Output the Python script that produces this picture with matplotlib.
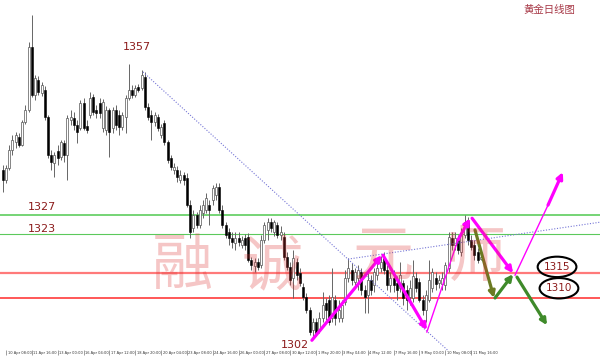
import matplotlib
matplotlib.use('Agg')
import matplotlib.pyplot as plt
import numpy as np
from matplotlib.patches import Ellipse
import matplotlib.transforms as mtransforms

plt.rcParams['font.family'] = ['DejaVu Sans']

# ---------------- data (4H gold candles, prices) ----------------
first_bar = -1
opens = [1336.2, 1334.2, 1336.6, 1340.3, 1342.0, 1343.0, 1341.4, 1346.1, 1348.6, 1361.5,
         1351.7, 1354.7, 1352.1, 1352.7, 1347.1, 1339.3, 1337.7, 1340.1, 1338.9, 1341.8,
         1339.3, 1346.5, 1346.9, 1345.5, 1344.9, 1350.0, 1345.3, 1347.5, 1351.2, 1348.6,
         1350.0, 1344.9, 1344.5, 1348.6, 1344.9, 1348.6, 1347.5, 1345.1, 1347.1, 1351.0,
         1352.7, 1351.7, 1353.3, 1353.1, 1355.4, 1349.2, 1347.5, 1346.1, 1347.1, 1343.4,
         1345.9, 1342.0, 1338.7, 1336.2, 1336.2, 1334.2, 1335.2, 1334.6, 1329.0, 1324.3,
         1327.0, 1324.9, 1327.4, 1328.0, 1329.0, 1330.1, 1331.1, 1332.7, 1328.0, 1324.9,
         1323.5, 1322.2, 1321.2, 1322.2, 1320.9, 1322.2, 1322.4, 1317.7, 1316.5, 1317.3,
         1316.7, 1321.8, 1323.9, 1325.5, 1323.5, 1324.9, 1322.9, 1322.4, 1318.3, 1316.3,
         1314.0, 1317.3, 1315.0, 1312.1, 1310.1, 1307.4, 1303.3, 1305.0, 1303.3, 1305.8,
         1308.8, 1309.5, 1305.8, 1309.5, 1305.8, 1305.8, 1309.1, 1314.0, 1315.7, 1313.2,
         1314.0, 1315.2, 1311.5, 1310.5, 1313.6, 1312.6, 1314.6, 1316.1, 1318.1, 1315.7,
         1312.6, 1314.0, 1313.0, 1312.0, 1312.9, 1311.5, 1310.1, 1309.9, 1314.0, 1313.2,
         1309.5, 1307.4, 1309.5, 1312.0, 1314.0, 1313.0, 1312.8, 1312.6, 1316.1, 1322.2,
         1320.8, 1321.8, 1319.3, 1322.9, 1325.5, 1321.8, 1320.8, 1319.3, 1317.9]
closes = [1334.2, 1336.6, 1340.3, 1342.4, 1343.4, 1341.4, 1346.1, 1348.6, 1361.5, 1351.7,
          1355.2, 1352.3, 1353.7, 1347.1, 1339.3, 1337.9, 1339.3, 1338.7, 1342.0, 1339.3,
          1346.9, 1347.1, 1345.5, 1344.0, 1350.0, 1344.9, 1344.5, 1351.0, 1348.1, 1347.9,
          1347.9, 1350.2, 1348.6, 1344.0, 1348.6, 1345.5, 1345.1, 1347.5, 1351.0, 1352.7,
          1351.7, 1353.1, 1352.7, 1355.8, 1349.2, 1347.1, 1346.1, 1347.5, 1344.9, 1345.1,
          1342.0, 1338.3, 1336.8, 1336.8, 1334.8, 1335.2, 1334.2, 1329.0, 1323.5, 1327.0,
          1324.9, 1328.0, 1329.0, 1330.5, 1328.0, 1332.5, 1332.7, 1328.0, 1324.9, 1322.9,
          1322.2, 1321.4, 1322.2, 1321.4, 1321.8, 1320.9, 1317.7, 1316.7, 1317.3, 1316.3,
          1321.8, 1324.9, 1325.5, 1324.3, 1325.5, 1322.9, 1323.5, 1318.3, 1316.3, 1313.6,
          1318.1, 1314.6, 1313.0, 1310.1, 1307.4, 1302.9, 1305.0, 1302.7, 1305.8, 1308.4,
          1307.4, 1304.9, 1310.1, 1305.8, 1307.4, 1308.4, 1314.0, 1316.1, 1313.6, 1315.2,
          1315.7, 1311.5, 1310.1, 1313.6, 1311.5, 1315.2, 1316.1, 1317.3, 1315.7, 1312.6,
          1314.0, 1312.6, 1311.5, 1314.6, 1309.9, 1309.5, 1312.0, 1314.4, 1312.0, 1309.5,
          1307.4, 1310.5, 1313.6, 1315.2, 1312.8, 1313.6, 1314.0, 1316.7, 1322.4, 1320.8,
          1322.2, 1319.8, 1322.9, 1325.5, 1321.8, 1320.4, 1318.7, 1317.7, 1318.3]
highs = [1337.2, 1337.2, 1341.4, 1343.4, 1344.1, 1343.8, 1346.5, 1349.6, 1362.6, 1368.1,
         1355.8, 1355.6, 1354.3, 1353.5, 1347.5, 1340.3, 1339.9, 1341.4, 1342.4, 1342.4,
         1347.5, 1348.6, 1348.1, 1346.5, 1350.6, 1351.0, 1346.5, 1352.3, 1351.9, 1349.6,
         1351.0, 1350.8, 1349.4, 1349.0, 1349.2, 1349.6, 1348.6, 1348.1, 1351.7, 1358.0,
         1353.7, 1353.7, 1353.9, 1356.8, 1356.4, 1350.0, 1348.6, 1348.1, 1347.7, 1345.7,
         1346.5, 1342.4, 1339.3, 1337.7, 1337.0, 1336.2, 1335.8, 1335.6, 1330.1, 1328.0,
         1327.6, 1329.0, 1330.1, 1331.5, 1330.1, 1333.1, 1333.5, 1333.5, 1329.0, 1325.5,
         1324.3, 1323.5, 1323.5, 1323.5, 1322.7, 1323.1, 1323.3, 1318.3, 1318.1, 1318.1,
         1322.9, 1325.5, 1326.4, 1326.4, 1325.9, 1325.5, 1324.7, 1323.5, 1319.3, 1317.3,
         1319.8, 1318.1, 1316.1, 1312.9, 1310.9, 1308.0, 1305.8, 1305.8, 1307.0, 1311.1,
         1309.9, 1310.5, 1316.0, 1310.5, 1309.5, 1309.5, 1315.7, 1318.1, 1317.1, 1316.1,
         1316.7, 1316.1, 1312.6, 1315.7, 1314.6, 1316.1, 1317.3, 1318.5, 1319.3, 1316.7,
         1315.2, 1315.7, 1314.4, 1317.3, 1313.6, 1312.6, 1313.6, 1317.7, 1315.2, 1314.0,
         1310.5, 1311.5, 1317.7, 1316.1, 1315.2, 1314.6, 1315.2, 1317.3, 1323.5, 1323.5,
         1323.5, 1322.9, 1324.3, 1326.9, 1326.5, 1322.9, 1321.8, 1320.2, 1318.7]
lows = [1331.7, 1333.6, 1336.2, 1339.3, 1340.7, 1341.0, 1341.2, 1345.7, 1348.2, 1351.3,
        1350.6, 1351.7, 1351.5, 1346.5, 1338.7, 1336.2, 1334.8, 1337.2, 1338.3, 1337.9,
        1334.2, 1345.5, 1344.5, 1341.8, 1344.5, 1344.5, 1343.8, 1346.9, 1347.5, 1346.9,
        1346.9, 1344.0, 1343.4, 1338.9, 1343.8, 1344.5, 1343.4, 1344.5, 1343.8, 1350.6,
        1351.0, 1351.2, 1352.3, 1352.7, 1348.6, 1346.5, 1342.4, 1345.3, 1344.3, 1342.8,
        1341.4, 1337.7, 1336.2, 1335.4, 1333.8, 1333.5, 1333.1, 1328.6, 1322.2, 1323.5,
        1324.3, 1324.3, 1326.4, 1327.4, 1324.9, 1329.0, 1330.1, 1327.4, 1324.3, 1322.2,
        1320.8, 1320.2, 1319.8, 1320.6, 1320.2, 1319.8, 1317.3, 1315.7, 1315.2, 1315.7,
        1316.1, 1321.2, 1321.8, 1323.5, 1322.7, 1322.2, 1321.8, 1317.7, 1315.7, 1312.6,
        1309.9, 1313.6, 1312.4, 1309.5, 1306.8, 1302.3, 1301.9, 1302.1, 1302.7, 1305.0,
        1305.4, 1304.3, 1305.0, 1304.3, 1305.0, 1305.0, 1308.4, 1313.2, 1312.6, 1312.1,
        1311.5, 1310.5, 1306.8, 1306.8, 1310.5, 1311.1, 1313.6, 1315.2, 1314.8, 1311.5,
        1311.1, 1311.1, 1309.5, 1311.1, 1308.4, 1307.4, 1308.4, 1309.1, 1311.1, 1309.1,
        1306.4, 1305.0, 1309.1, 1311.1, 1311.5, 1312.0, 1311.5, 1311.5, 1315.2, 1319.8,
        1319.8, 1318.9, 1318.5, 1322.2, 1320.8, 1319.8, 1317.7, 1317.1, 1317.7]

tick_bars = [0, 8, 16, 24, 32, 40, 48, 56, 64, 72, 80, 88, 96, 104, 112, 120, 128, 136, 144]
tick_labels = ["10 Apr 08:00", "11 Apr 16:00", "13 Apr 00:00", "16 Apr 04:00", "17 Apr 12:00",
               "18 Apr 20:00", "20 Apr 04:00", "23 Apr 08:00", "24 Apr 16:00", "26 Apr 00:00",
               "27 Apr 08:00", "30 Apr 12:00", "1 May 20:00", "3 May 04:00", "4 May 12:00",
               "7 May 16:00", "9 May 00:00", "10 May 08:00", "11 May 16:00"]

green_levels = [1327, 1323]
red_levels = [1315, 1310]
peak_label = ("1357", 40.6, 1361.5)
low_label = ("1302", 89.5, 1300.2)

# trend lines (bar, price)
trend_down = [(42.4, 1356.4), (137.0, 1299.0)]
trend_up = [(105.9, 1317.9), (184.0, 1325.5)]

# projected path arrows (bar, price)
magenta_thick = [((94.7, 1301.2), (116.4, 1318.7)),
                 ((116.7, 1318.7), (130.3, 1303.3)),
                 ((139.9, 1321.8), (143.7, 1326.3)),
                 ((144.3, 1326.3), (157.0, 1315.0)),
                 ((167.8, 1329.0), (172.4, 1335.8))]
magenta_thin = [((130.3, 1302.9), (139.9, 1321.8)),
                ((157.6, 1314.6), (167.8, 1329.0))]
green_arrows = [((145.2, 1323.9), (151.1, 1309.9)),
                ((151.4, 1309.9), (157.0, 1314.8)),
                ((158.2, 1314.2), (167.5, 1304.3))]
ellipse_labels = [("1315", 170.6, 1316.3), ("1310", 171.2, 1311.9)]

# ---------------- figure ----------------
fig = plt.figure(figsize=(6.0, 3.62), dpi=100)
ax = fig.add_axes([0, 12 / 362, 1, 350 / 362])
ax.set_xlim(-1.86, 183.9)
ax.set_ylim(1299.2, 1371.2)
for s in ax.spines.values():
    s.set_visible(False)
ax.set_yticks([])

# horizontal levels
ax.axhline(green_levels[0], color='#4fc94f', lw=1.1, zorder=1)
ax.axhline(green_levels[1], color='#5cc95c', lw=0.8, zorder=1)
ax.axhline(red_levels[0], color='#ff7a7a', lw=1.6, zorder=1)
ax.axhline(red_levels[1], color='#ff2a2a', lw=1.1, zorder=1)

# candles
xs = np.arange(len(opens)) + first_bar
o = np.array(opens); c = np.array(closes); h = np.array(highs); l = np.array(lows)
up = c >= o
ax.vlines(xs, l, h, color='#666666', lw=0.7, zorder=2)
body_b = np.minimum(o, c)
body_h = np.maximum(np.abs(c - o), 0.15)
ax.bar(xs[up], body_h[up], bottom=body_b[up], width=0.62, color='white',
       edgecolor='#555555', linewidth=0.5, zorder=3)
ax.bar(xs[~up], body_h[~up], bottom=body_b[~up], width=0.62, color='black',
       edgecolor='black', linewidth=0.4, zorder=3)

# dotted trend lines
for ln in (trend_down, trend_up):
    ax.plot([ln[0][0], ln[1][0]], [ln[0][1], ln[1][1]], color='#7676d6', lw=0.8,
            ls=(0, (1, 1.5)), zorder=4, clip_on=False)

# arrows
def arrow(p0, p1, color, lw, ms=9):
    ax.annotate('', xy=p1, xytext=p0, zorder=6,
                arrowprops=dict(arrowstyle='-|>', color=color, lw=lw,
                                mutation_scale=ms, shrinkA=0, shrinkB=0))

for p0, p1 in magenta_thin:
    ax.plot([p0[0], p1[0]], [p0[1], p1[1]], color='#ff00ff', lw=1.0, zorder=6)
for p0, p1 in magenta_thick:
    arrow(p0, p1, '#ff00ff', 2.3)
for k, (p0, p1) in enumerate(green_arrows):
    arrow(p0, p1, '#6b7a22' if k == 0 else '#3f8a2a', 2.3)

# ellipses
for txt, bx, py in ellipse_labels:
    ax.add_patch(Ellipse((bx, py), 12.0, 4.2, fill=False, edgecolor='black', lw=1.5, zorder=7))
    ax.text(bx, py, txt, color='#8b1a1a', fontsize=7.5, ha='center', va='center', zorder=8)

# price labels
ax.text(peak_label[1], peak_label[2], peak_label[0], color='#8b1a1a', fontsize=8,
        ha='center', va='center')
ax.text(11.1, 1328.6, "1327", color='#8b1a1a', fontsize=8, ha='center', va='center')
ax.text(11.1, 1324.1, "1323", color='#8b1a1a', fontsize=8, ha='center', va='center')
ax.text(low_label[1], low_label[2], low_label[0], color='#8b1a1a', fontsize=8,
        ha='center', va='center', clip_on=False)

# watermark
wm_font = ['Noto Sans CJK SC', 'DejaVu Sans']
for ch, fx, fy in [("融", 182 / 600, 1 - 267 / 350), ("诚", 272 / 600, 1 - 268 / 350),
                   ("元", 383 / 600, 1 - 258 / 350), ("师", 475 / 600, 1 - 260 / 350)]:
    ax.text(fx, fy, ch, transform=ax.transAxes, fontsize=44, family=wm_font,
            color='#dd3333', alpha=0.28, ha='center', va='center', zorder=9)

# title
fig.text(549 / 600, 1 - 10 / 362, "黄金日线图", family=wm_font, fontsize=7.5,
         color='#a83a48', ha='center', va='center')

# x ticks
ax.set_xticks(tick_bars)
ax.set_xticklabels(tick_labels, fontsize=2.6, color='#333333', ha='left')
ax.tick_params(axis='x', length=3.5, width=0.5, color='#777777', pad=-2.8, direction='out')
offset = mtransforms.ScaledTranslation(1.5 / 100, 0, fig.dpi_scale_trans)
for lab in ax.get_xticklabels():
    lab.set_transform(lab.get_transform() + offset)

fig.savefig('out.png', dpi=100)
